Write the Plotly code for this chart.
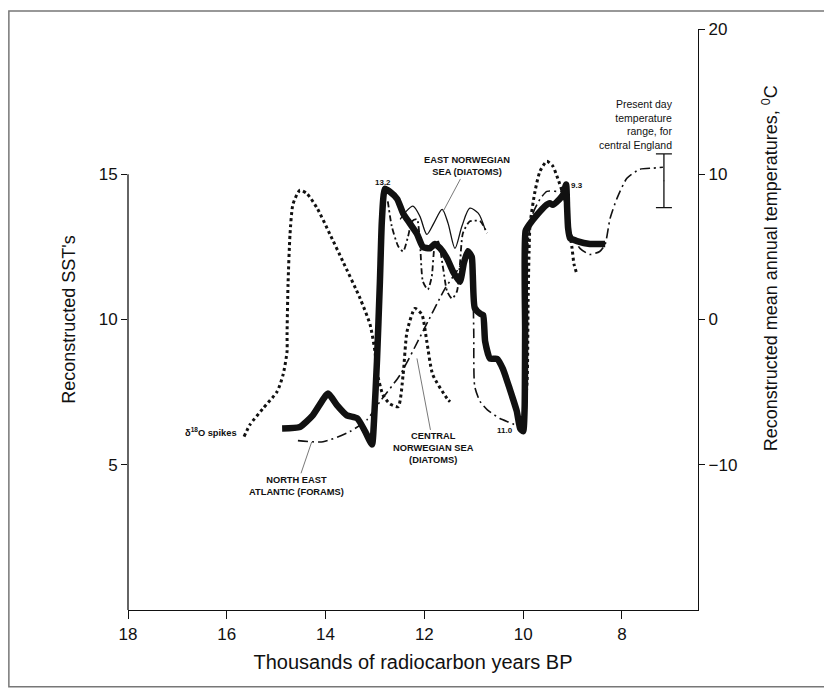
import plotly.graph_objects as go

# ---- data (x in thousands of radiocarbon years BP) ----
# delta-18O spikes (dotted), SST scale
d18o_a_x = [15.65, 15.53, 15.27, 14.98, 14.86, 14.78, 14.78, 14.76, 14.72, 14.66, 14.52, 14.38, 14.17,
            13.91, 13.65, 13.30, 13.10, 13.00, 12.96, 12.84, 12.70, 12.53, 12.43, 12.35, 12.19, 12.05,
            11.95, 11.83, 11.54, 11.48]
d18o_a_y = [5.97, 6.38, 6.93, 7.52, 8.10, 8.90, 9.48, 11.21, 12.93, 13.97, 14.45, 14.34, 13.83,
            12.93, 12.00, 10.72, 9.83, 8.90, 8.21, 7.41, 7.10, 7.00, 8.10, 9.59, 10.38, 10.17,
            9.24, 8.10, 7.28, 7.17]
d18o_b_x = [10.06, 10.00, 9.92, 9.90, 9.88, 9.86, 9.76, 9.66, 9.52, 9.40, 9.30, 9.19, 9.11, 9.07,
            9.01, 8.97, 8.91]
d18o_b_y = [6.31, 6.48, 7.86, 10.62, 12.34, 13.28, 14.41, 15.10, 15.45, 15.28, 14.86, 14.31, 13.83,
            13.14, 12.45, 11.90, 11.55]

# North East Atlantic (forams), SST scale
nea_x = [14.56, 14.05, 13.51, 13.16, 12.90, 12.49, 12.03, 11.58, 11.32, 11.16, 11.06, 11.02, 11.00,
         10.98, 10.87, 10.73, 10.47, 10.21, 10.06, 9.98, 9.94, 9.92, 9.90, 9.80, 9.66, 9.52, 9.32,
         9.21, 9.13, 9.05, 8.85, 8.65, 8.45, 8.34, 8.24, 8.10, 7.90, 7.64, 7.37, 7.17]
nea_y = [5.83, 5.79, 6.14, 6.55, 7.17, 8.10, 9.59, 11.07, 11.72, 12.14, 12.07, 11.31, 9.59,
         7.69, 7.17, 6.90, 6.59, 6.41, 6.24, 6.48, 7.86, 10.62, 12.69, 13.66, 14.14, 14.41, 14.41,
         14.41, 13.90, 13.03, 12.45, 12.24, 12.34, 12.59, 13.48, 14.17, 14.86, 15.17, 15.21, 15.24]

# Central Norwegian Sea (diatoms), SST scale
cns_x = [12.74, 12.66, 12.53, 12.43, 12.33, 12.25, 12.15, 12.09, 12.03, 11.93, 11.85, 11.79, 11.72,
         11.62, 11.54, 11.44, 11.34, 11.28, 11.22, 11.08, 10.87, 10.73]
cns_y = [14.07, 13.21, 12.52, 12.34, 12.86, 13.38, 13.45, 12.69, 11.31, 11.03, 11.48, 12.52, 12.69,
         11.76, 10.97, 10.72, 10.97, 11.90, 12.97, 13.38, 13.38, 12.97]

# East Norwegian Sea (diatoms), SST scale
ens_x = [12.49, 12.37, 12.23, 12.09, 11.95, 11.81, 11.64, 11.52, 11.38, 11.24, 11.08, 10.91, 10.77]
ens_y = [13.45, 13.72, 13.90, 13.55, 12.93, 13.31, 13.79, 13.31, 12.45, 13.21, 13.83, 13.66, 13.10]

# Reconstructed mean annual temperature (thick line), deg C scale
temp_x = [14.88, 14.52, 14.26, 13.95, 13.77, 13.57, 13.36, 13.20, 13.06, 13.02, 12.96, 12.90, 12.86,
          12.80, 12.70, 12.55, 12.43, 12.29, 12.15, 12.03, 11.89, 11.79, 11.68, 11.54, 11.42, 11.28,
          11.20, 11.12, 11.04, 11.02, 10.98, 10.87, 10.81, 10.77, 10.67, 10.53, 10.41, 10.27, 10.13,
          10.06, 10.00, 9.97, 9.96, 9.95, 9.86, 9.72, 9.56, 9.46, 9.40, 9.26, 9.19, 9.13, 9.11, 9.09,
          9.05, 8.91, 8.65, 8.34]
temp_y = [-7.5, -7.4, -6.6, -5.1, -5.9, -6.6, -6.8, -7.7, -8.6, -7.0, -2.9, 2.6, 6.8,
          9.0, 8.8, 8.3, 7.3, 6.6, 5.9, 5.0, 4.9, 5.2, 4.9, 4.2, 3.3, 2.6,
          3.9, 4.7, 4.3, 3.1, 0.8, 0.4, 0.3, -1.5, -2.7, -2.7, -3.4, -4.8, -6.3,
          -7.5, -7.7, -6.1, -0.8, 6.1, 6.6, 7.2, 7.8, 8.0, 7.9, 8.3, 8.6, 9.3, 7.7, 6.3,
          5.6, 5.4, 5.2, 5.2]

# Present day temperature range for central England, deg C
present_x = [7.15]
present_range = [7.7, 11.4]

x_ticks = [18, 16, 14, 12, 10, 8]
sst_ticks = [5, 10, 15]
temp_ticks = [-10, 0, 10, 20]

# ---- figure ----
INK = "#111111"
FONT = "Liberation Sans, Arial, Helvetica, sans-serif"
fig = go.Figure()

dotdash = "3px,3px"
fig.add_trace(go.Scatter(x=d18o_a_x, y=d18o_a_y, mode="lines",
                         line=dict(color=INK, width=3, dash=dotdash, shape="spline", smoothing=0.6)))
fig.add_trace(go.Scatter(x=d18o_b_x, y=d18o_b_y, mode="lines",
                         line=dict(color=INK, width=3, dash=dotdash, shape="spline", smoothing=0.6)))
fig.add_trace(go.Scatter(x=nea_x, y=nea_y, mode="lines",
                         line=dict(color=INK, width=1.6, dash="10px,4px,2px,4px", shape="spline", smoothing=0.6)))
fig.add_trace(go.Scatter(x=cns_x, y=cns_y, mode="lines",
                         line=dict(color=INK, width=1.8, dash="6px,3px,2px,3px", shape="spline", smoothing=0.6)))
fig.add_trace(go.Scatter(x=ens_x, y=ens_y, mode="lines",
                         line=dict(color=INK, width=1.3, shape="spline", smoothing=0.8)))
fig.add_trace(go.Scatter(x=temp_x, y=temp_y, mode="lines", yaxis="y2",
                         line=dict(color=INK, width=6.5, shape="spline", smoothing=0.5)))
fig.add_trace(go.Scatter(
    x=present_x, y=[(present_range[0] + present_range[1]) / 2], yaxis="y2", mode="markers",
    marker=dict(size=1, color=INK),
    error_y=dict(type="data", array=[(present_range[1] - present_range[0]) / 2],
                 color=INK, thickness=1.3, width=8)))

fig.update_layout(
    width=824, height=684,
    margin=dict(l=120, r=134, t=19, b=82),
    paper_bgcolor="white", plot_bgcolor="white",
    showlegend=False,
    font=dict(family=FONT, color=INK),
    xaxis=dict(range=[18, 6.46], tickvals=x_ticks, showgrid=False, zeroline=False,
               showline=True, linecolor=INK, linewidth=1.3, ticks="outside", ticklen=8,
               tickcolor=INK, tickwidth=1.3, tickfont=dict(size=17),
               title=dict(text="Thousands of radiocarbon years BP", font=dict(size=20), standoff=12)),
    yaxis=dict(range=[0, 20], tickvals=sst_ticks, showgrid=False, zeroline=False,
               showline=False, ticks="outside", ticklen=6, tickcolor=INK, tickwidth=1.3,
               tickfont=dict(size=17),
               title=dict(text="Reconstructed SST's", font=dict(size=18), standoff=18)),
    yaxis2=dict(range=[-20, 20], tickvals=temp_ticks, overlaying="y", side="right",
                showgrid=False, zeroline=False, showline=True, linecolor=INK, linewidth=1.3,
                ticks="outside", ticklen=6, tickcolor=INK, tickwidth=1.3, tickfont=dict(size=17)),
)

# right axis title (sits above centre in the original)
fig.add_annotation(xref="paper", yref="paper", x=1.15, y=0.588, textangle=-90, showarrow=False,
                   text="Reconstructed mean annual temperatures, <sup>0</sup>C",
                   font=dict(family=FONT, size=18, color=INK))

# left axis line only from 0 to 15, and outer frame
fig.add_shape(type="line", xref="paper", yref="y", x0=0, x1=0, y0=0, y1=15,
              line=dict(color=INK, width=1.3))
fig.add_shape(type="rect", xref="paper", yref="paper", x0=-0.209, x1=1.226, y0=-0.132, y1=1.031,
              line=dict(color="#777777", width=1.5))

small = dict(family=FONT, size=9.3, color=INK)
fig.add_annotation(x=11.62, y=13.72, text="<b>EAST NORWEGIAN<br>SEA (DIATOMS)</b>", font=small,
                   showarrow=True, arrowhead=0, arrowwidth=0.8, arrowcolor="#555555", ax=24, ay=-45)
fig.add_annotation(x=14.28, y=5.79, text="<b>NORTH EAST<br>ATLANTIC (FORAMS)</b>", font=small,
                   showarrow=True, arrowhead=0, arrowwidth=0.8, arrowcolor="#555555", ax=-15, ay=44)
fig.add_annotation(x=12.15, y=8.66, text="<b>CENTRAL<br>NORWEGIAN SEA<br>(DIATOMS)</b>", font=small,
                   showarrow=True, arrowhead=0, arrowwidth=0.8, arrowcolor="#555555", ax=17, ay=90)
fig.add_annotation(x=15.75, y=6.14, xanchor="right", text="<b>δ<sup>18</sup>O spikes</b>",
                   font=small, showarrow=False)
tiny = dict(family=FONT, size=8, color=INK)
fig.add_annotation(x=12.84, y=14.72, text="<b>13.2</b>", font=tiny, showarrow=False)
fig.add_annotation(x=10.37, y=6.17, text="<b>11.0</b>", font=tiny, showarrow=False)
fig.add_annotation(x=8.91, y=14.62, text="<b>9.3</b>", font=tiny, showarrow=False)
fig.add_annotation(x=6.93, y=16.72, xanchor="right", align="right",
                   text="Present day<br>temperature<br>range, for<br>central England",
                   font=dict(family=FONT, size=10.5, color=INK), showarrow=False)

fig.write_html("out.html")
